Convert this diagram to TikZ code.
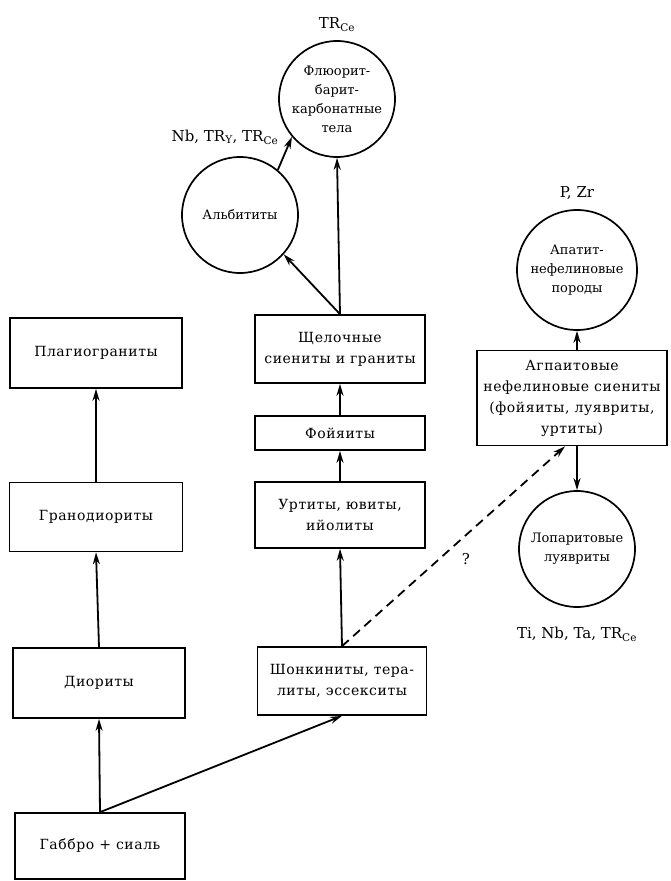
\documentclass[tikz,border=0pt]{standalone}
\usepackage{fontspec}
\setmainfont{DejaVu Serif}
\newfontfamily\cajafont[LetterSpace=4]{DejaVu Serif}
\usepackage{tikz}
\usetikzlibrary{arrows.meta, positioning}
\tikzstyle{caja} = [draw, line width=1.7pt, rectangle, align=center, inner sep=2pt, font=\cajafont\fontsize{14}{21}\selectfont]
\tikzstyle{cuerpo} = [draw, line width=1.7pt, circle, minimum size=116pt, align=center, inner sep=0pt, font=\fontsize{13}{19}\selectfont]
\tikzstyle{flecha} = [line width=1.8pt, -{Stealth[length=12pt, width=7pt]}]
\tikzstyle{elementos} = [font=\fontsize{15}{18}\selectfont]

\begin{document}
\begin{tikzpicture}[x=1pt, y=-1pt]
	\useasboundingbox (0,0) rectangle (670,881);
	% serie calcoalcalina
	\node [caja, minimum width=172pt, minimum height=70pt] (plag) at (96,353) {Плагиограниты};
	\node [caja, minimum width=173pt, minimum height=69pt] (grano) at (96,517) {Гранодиориты};
	\node [caja, minimum width=172pt, minimum height=70pt] (dior) at (99,683) {Диориты};
	\node [caja, minimum width=170pt, minimum height=66pt] (gabbro) at (100,846) {Габбро + сиаль};
	% serie alcalina
	\node [caja, minimum width=169pt, minimum height=68pt] (shon) at (342,681) {Шонкиниты, тера-\\литы, эссекситы};
	\node [caja, minimum width=170pt, minimum height=66pt] (urt) at (340,515) {Уртиты, ювиты,\\ийолиты};
	\node [caja, minimum width=170pt, minimum height=34pt] (foy) at (340,433) {Фойяиты};
	\node [caja, minimum width=170pt, minimum height=68pt] (shch) at (340,349) {Щелочные\\сиениты и граниты};
	\node [caja, minimum width=190pt, minimum height=95pt] (agp) at (572,398) {Агпаитовые\\нефелиновые сиениты\\(фойяиты, луявриты,\\уртиты)};
	% cuerpos
	\node [cuerpo] (fluor) at (337,99) {Флюорит-\\барит-\\карбонатные\\тела};
	\node [cuerpo] (alb) at (240,215) {Альбититы};
	\node [cuerpo, minimum size=120pt] (apat) at (577,270) {Апатит-\\нефелиновые\\породы};
	\node [cuerpo] (lopar) at (577,549) {Лопаритовые\\луявриты};
	% elementos
	\node [elementos, above=5pt of fluor] (elfluor) {TR\textsubscript{Ce}};
	\node [elementos] (elalb) at (225,137) {Nb, TR\textsubscript{Y}, TR\textsubscript{Ce}};
	\node [elementos, above=6pt of apat] (elapat) {P, Zr};
	\node [elementos, below=16pt of lopar] (ellopar) {Ti, Nb, Ta, TR\textsubscript{Ce}};
	\node [elementos] (preg) at (466,559) {?};
	% flechas
	\draw [flecha] (gabbro.north) -- (dior.south);
	\draw [flecha] (dior.north) -- (grano.south);
	\draw [flecha] (grano.north) -- (plag.south);
	\draw [flecha] (gabbro.north) -- (shon.south);
	\draw [flecha] (shon.north) -- (urt.south);
	\draw [flecha] (urt.north) -- (foy.south);
	\draw [flecha] (foy.north) -- (shch.south);
	\draw [flecha] (shch.north) -- (fluor.south);
	\draw [flecha] (shch.north) -- (alb.-42);
	\draw [flecha] (alb.50) -- (fluor.-140);
	\draw [flecha, dashed, dash pattern=on 9pt off 6pt] (shon.north) -- ([xshift=-7pt]agp.south);
	\draw [flecha] ([xshift=5pt]agp.north) -- (apat.south);
	\draw [flecha] ([xshift=5pt]agp.south) -- (lopar.north);
\end{tikzpicture}
\end{document}
